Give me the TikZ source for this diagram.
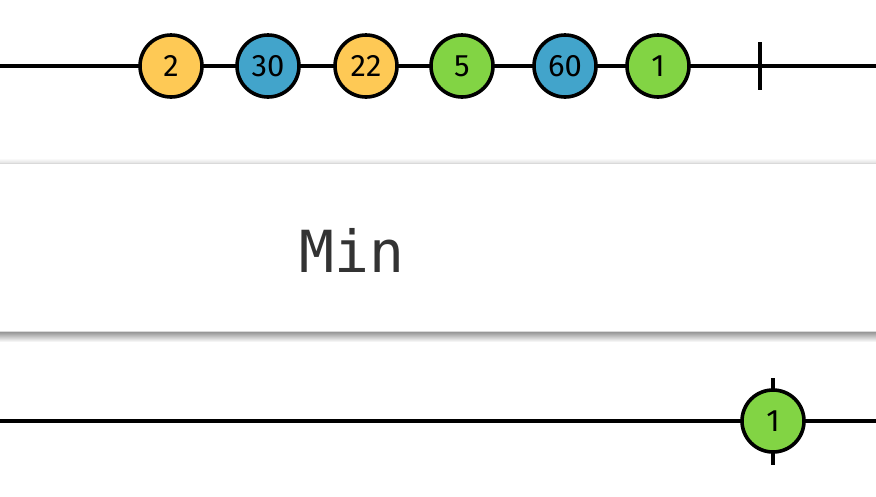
\documentclass[tikz,border=0pt]{standalone}
\usepackage{fontspec}
\setmainfont{Fira Sans}
\newfontfamily\codefont{DejaVu Sans Mono}
\definecolor{myyellow}{HTML}{FEC955}
\definecolor{myblue}{HTML}{42A4CB}
\definecolor{mygreen}{HTML}{82D444}
\definecolor{boxtext}{HTML}{333333}
\begin{document}
\begin{tikzpicture}[x=1pt,y=-1pt,
  marble/.style={circle,draw=black,line width=3.6pt,minimum size=62pt,inner sep=0pt,font=\fontsize{31}{31}\selectfont},
  timeline/.style={line width=3.6pt,draw=black},
  tickmark/.style={line width=3.6pt,draw=black}]
\useasboundingbox (0,0) rectangle (876,496);
\fill[white] (0,0) rectangle (876,496);
% top timeline
\coordinate (tl0) at (0,66);
\coordinate (tl1) at (876,66);
\draw[timeline] (tl0) -- (tl1);
\node[marble,fill=myyellow] (m1) at (171,66) {2};
\node[marble,fill=myblue] (m2) at (268,66) {30};
\node[marble,fill=myyellow] (m3) at (366,66) {22};
\node[marble,fill=mygreen] (m4) at (462,66) {5};
\node[marble,fill=myblue] (m5) at (565,66) {60};
\node[marble,fill=mygreen] (m6) at (658,66) {1};
\coordinate (c1a) at (760,42);
\coordinate (c1b) at (760,90);
\draw[tickmark] (c1a) -- (c1b);
% operator box with shadow
\shade[top color=black!45,bottom color=white] (0,331) rectangle (876,342);
\shade[top color=white,bottom color=black!12] (0,158) rectangle (876,163);
\node[draw=black!15,line width=1pt,fill=white,minimum width=880pt,minimum height=168pt,inner sep=0pt,anchor=north west] (box) at (-2,163) {};
\node[font=\codefont\fontsize{58}{58}\selectfont,text=boxtext] (lbl) at (352,250) {Min};
% bottom timeline
\coordinate (bl0) at (0,421);
\coordinate (bl1) at (876,421);
\draw[timeline] (bl0) -- (bl1);
\coordinate (c2a) at (773,378);
\coordinate (c2b) at (773,465);
\draw[tickmark] (c2a) -- (c2b);
\node[marble,fill=mygreen] (r1) at (773,421) {1};
\end{tikzpicture}
\end{document}
